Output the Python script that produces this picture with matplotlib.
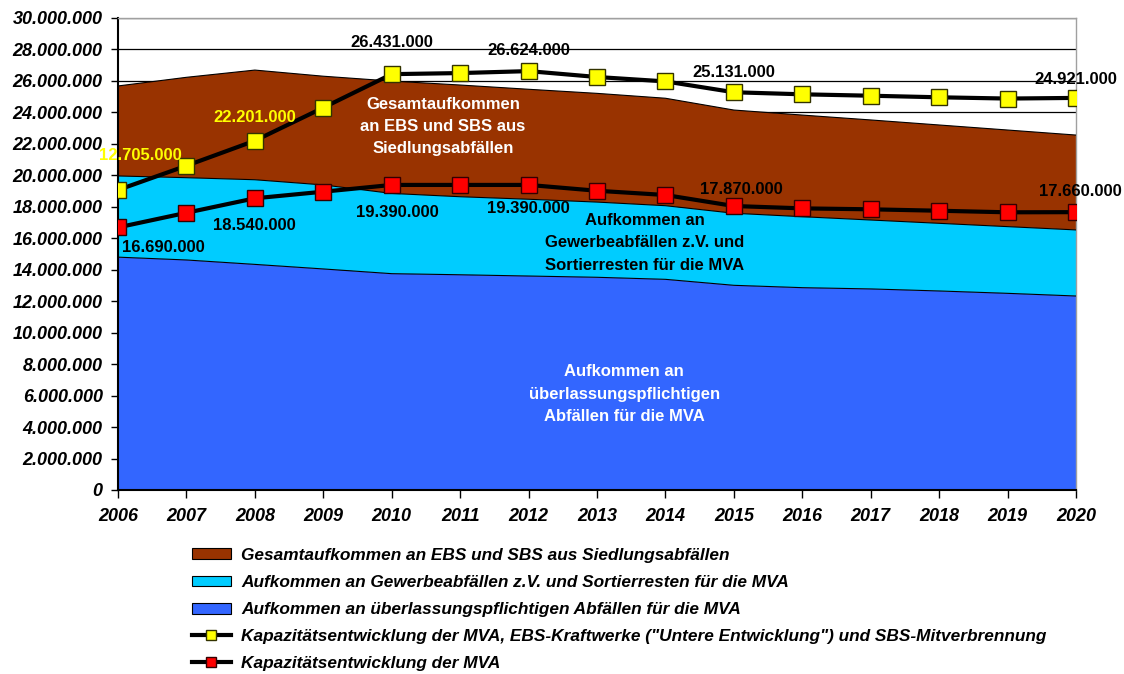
import numpy as np
import matplotlib.pyplot as plt
from matplotlib.patches import Patch
from matplotlib.lines import Line2D

plt.rcParams["font.family"] = ["Liberation Sans", "DejaVu Sans"]

years = list(range(2006, 2021))

# stacked areas (t)
uebl = [14.80e6, 14.62e6, 14.34e6, 14.05e6, 13.75e6, 13.68e6, 13.60e6, 13.52e6,
        13.39e6, 13.01e6, 12.86e6, 12.78e6, 12.65e6, 12.50e6, 12.33e6]
gewerbe = [5.16e6, 5.23e6, 5.38e6, 5.34e6, 5.10e6, 4.96e6, 4.88e6, 4.78e6,
           4.68e6, 4.58e6, 4.51e6, 4.38e6, 4.30e6, 4.24e6, 4.20e6]
ebs_sbs = [5.72e6, 6.38e6, 6.97e6, 6.91e6, 7.14e6, 7.10e6, 6.99e6, 6.91e6,
           6.83e6, 6.56e6, 6.46e6, 6.36e6, 6.25e6, 6.14e6, 6.03e6]

# capacity lines (t)
kap_gesamt = [19.07e6, 20.61e6, 22.20e6, 24.30e6, 26.431e6, 26.50e6, 26.624e6, 26.25e6,
              25.97e6, 25.28e6, 25.15e6, 25.06e6, 24.96e6, 24.88e6, 24.921e6]
kap_mva = [16.69e6, 17.62e6, 18.54e6, 18.96e6, 19.39e6, 19.39e6, 19.39e6, 19.02e6,
           18.75e6, 18.05e6, 17.90e6, 17.84e6, 17.75e6, 17.65e6, 17.66e6]

# data labels as printed in the chart
lab_years_gesamt = [2006, 2008, 2010, 2012, 2015, 2020]
lab_text_gesamt = ["12.705.000", "22.201.000", "26.431.000", "26.624.000", "25.131.000", "24.921.000"]
lab_years_mva = [2006, 2008, 2010, 2012, 2015, 2020]
lab_text_mva = ["16.690.000", "18.540.000", "19.390.000", "19.390.000", "17.870.000", "17.660.000"]

names = ["Gesamtaufkommen an EBS und SBS aus Siedlungsabfällen",
         "Aufkommen an Gewerbeabfällen z.V. und Sortierresten für die MVA",
         "Aufkommen an überlassungspflichtigen Abfällen für die MVA",
         "Kapazitätsentwicklung der MVA, EBS-Kraftwerke (\"Untere Entwicklung\") und SBS-Mitverbrennung",
         "Kapazitätsentwicklung der MVA"]

c_brown, c_cyan, c_blue = "#993300", "#00CCFF", "#3366FF"

fig = plt.figure(figsize=(11.24, 6.74), dpi=100)
ax = fig.add_axes([118 / 1124, 1 - 490 / 674, (1076 - 118) / 1124, (490 - 18) / 674])

x = np.array(years)
b1 = np.array(uebl)
b2 = b1 + np.array(gewerbe)
b3 = b2 + np.array(ebs_sbs)

ax.set_axisbelow(True)
ax.yaxis.grid(True, color="black", linewidth=0.9)
ax.fill_between(x, 0, b1, facecolor=c_blue, edgecolor="none", zorder=2)
ax.fill_between(x, b1, b2, facecolor=c_cyan, edgecolor="none", zorder=2)
ax.fill_between(x, b2, b3, facecolor=c_brown, edgecolor="none", zorder=2)
for top in (b1, b2, b3):
    ax.plot(x, top, color="black", linewidth=0.8, zorder=3)

ax.plot(x, kap_gesamt, color="black", linewidth=3, marker="s", markersize=12,
        markerfacecolor="#FFFF00", markeredgecolor="#333300", markeredgewidth=1, zorder=5)
ax.plot(x, kap_mva, color="black", linewidth=3, marker="s", markersize=12,
        markerfacecolor="#FF0000", markeredgecolor="#330000", markeredgewidth=1, zorder=5)

# data labels
offs_gesamt = [(16, 2.2e6), (0, 1.5e6), (0, 2.0e6), (0, 1.28e6), (0, 1.26e6), (0, 1.16e6)]
cols_gesamt = ["#FFFF00", "#FFFF00", "black", "black", "black", "black"]
for yr, txt, (dx, dy), col in zip(lab_years_gesamt, lab_text_gesamt, offs_gesamt, cols_gesamt):
    v = kap_gesamt[years.index(yr)]
    ax.annotate(txt, (yr, v + dy), xytext=(dx, 0), textcoords="offset points",
                ha="center", va="center", fontsize=12, fontweight="bold", color=col, zorder=6)
offs_mva = [(33, -1.27e6), (0, -1.72e6), (4, -1.78e6), (0, -1.5e6), (5.5, 1.02e6), (3, 1.32e6)]
for yr, txt, (dx, dy) in zip(lab_years_mva, lab_text_mva, offs_mva):
    v = kap_mva[years.index(yr)]
    ax.annotate(txt, (yr, v + dy), xytext=(dx, 0), textcoords="offset points",
                ha="center", va="center", fontsize=12, fontweight="bold", color="black", zorder=6)

# area captions
ax.text(2010.75, 23.1e6, "Gesamtaufkommen\nan EBS und SBS aus\nSiedlungsabfällen", ha="center", va="center",
        fontsize=12, fontweight="bold", color="white", linespacing=1.6, zorder=4)
ax.text(2013.7, 15.7e6, "Aufkommen an\nGewerbeabfällen z.V. und\nSortierresten für die MVA", ha="center",
        va="center", fontsize=12, fontweight="bold", color="black", linespacing=1.6, zorder=4)
ax.text(2013.4, 6.1e6, "Aufkommen an\nüberlassungspflichtigen\nAbfällen für die MVA", ha="center",
        va="center", fontsize=12, fontweight="bold", color="white", linespacing=1.6, zorder=4)

ax.set_xlim(2006, 2020)
ax.set_ylim(0, 30e6)
ax.set_xticks(years)
ax.set_yticks(np.arange(0, 30e6 + 1, 2e6))
ax.set_yticklabels([f"{v:,.0f}".replace(",", ".") for v in np.arange(0, 30e6 + 1, 2e6)])
for lbl in ax.get_xticklabels() + ax.get_yticklabels():
    lbl.set_fontweight("bold")
    lbl.set_fontstyle("italic")
    lbl.set_fontsize(13)
ax.tick_params(axis="y", direction="out", length=5, width=1, pad=6)
ax.tick_params(axis="x", direction="out", length=6, width=1, pad=7)
for s in ("top", "right"):
    ax.spines[s].set_color("#A0A0A0")
    ax.spines[s].set_linewidth(1)
for s in ("left", "bottom"):
    ax.spines[s].set_color("black")
    ax.spines[s].set_linewidth(1.5)

handles = [Patch(facecolor=c_brown, edgecolor="black", linewidth=0.8),
           Patch(facecolor=c_cyan, edgecolor="black", linewidth=0.8),
           Patch(facecolor=c_blue, edgecolor="black", linewidth=0.8),
           Line2D([], [], color="black", linewidth=3, marker="s", markersize=7.5,
                  markerfacecolor="#FFFF00", markeredgecolor="#333300"),
           Line2D([], [], color="black", linewidth=3, marker="s", markersize=7.5,
                  markerfacecolor="#FF0000", markeredgecolor="#330000")]
fig.legend(handles, names, loc="upper left", bbox_to_anchor=(192 / 1124, 1 - 548 / 674),
           frameon=False, prop={"style": "italic", "weight": "bold", "size": 12.4}, handlelength=2.25,
           handleheight=0.6, handletextpad=0.6, labelspacing=0.7, borderaxespad=0, borderpad=0)

fig.savefig("out.png", dpi=100)
